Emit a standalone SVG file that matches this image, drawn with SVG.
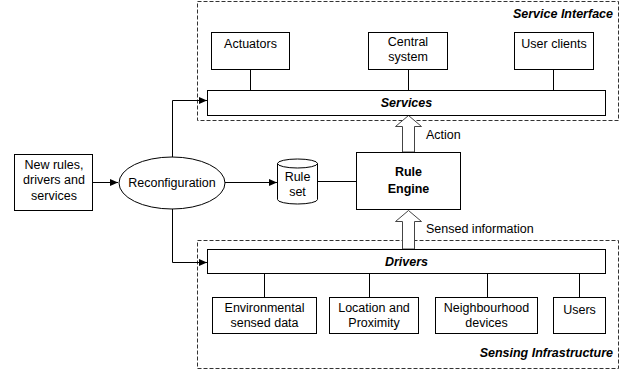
<svg xmlns="http://www.w3.org/2000/svg" width="635" height="374" viewBox="0 0 635 374">
<defs>
<marker id="ah" markerWidth="8" markerHeight="8" refX="8" refY="4" orient="auto" markerUnits="userSpaceOnUse"><path d="M0,0.5 L8,4 L0,7.5 Z" fill="#000"/></marker>
<style>
text{font-family:"Liberation Sans",Arial,sans-serif;font-size:12.5px;fill:#000;text-anchor:middle}
.bi{font-weight:bold;font-style:italic}
.b{font-weight:bold}
.box{fill:#fff;stroke:#000;stroke-width:1}
.dash{fill:none;stroke:#333;stroke-width:1;stroke-dasharray:4,2}
.ln{fill:none;stroke:#000;stroke-width:1}
.hollow{fill:#fff;stroke:#444;stroke-width:1}
</style>
</defs>
<rect width="635" height="374" fill="#fff"/>
<g id="service-interface">
<rect class="dash" x="197.5" y="1.5" width="421" height="119"/>
<text class="bi" x="613" y="18" style="text-anchor:end">Service Interface</text>
</g>
<g id="sensing-infrastructure">
<rect class="dash" x="197.5" y="240.5" width="421" height="128"/>
<text class="bi" x="613" y="357" style="text-anchor:end">Sensing Infrastructure</text>
</g>
<g id="connectors">
<line class="ln" x1="250.5" y1="70" x2="250.5" y2="90"/>
<line class="ln" x1="408.5" y1="70" x2="408.5" y2="90"/>
<line class="ln" x1="553.5" y1="70" x2="553.5" y2="90"/>
<line class="ln" x1="264.5" y1="274" x2="264.5" y2="297"/>
<line class="ln" x1="369.5" y1="274" x2="369.5" y2="297"/>
<line class="ln" x1="487.5" y1="274" x2="487.5" y2="297"/>
<line class="ln" x1="579.5" y1="274" x2="579.5" y2="297"/>
<line class="ln" x1="93" y1="182.5" x2="118" y2="182.5" marker-end="url(#ah)"/>
<line class="ln" x1="225" y1="182.5" x2="277" y2="182.5" marker-end="url(#ah)"/>
<line class="ln" x1="317" y1="181.5" x2="356" y2="181.5"/>
<polyline class="ln" points="172.5,157 172.5,100.5 207,100.5" marker-end="url(#ah)"/>
<polyline class="ln" points="172.5,209 172.5,262.5 207,262.5" marker-end="url(#ah)"/>
<polygon class="hollow" points="402.5,152 402.5,126.5 395.5,126.5 408.5,115.5 421.5,126.5 414.5,126.5 414.5,152"/>
<polygon class="hollow" points="402.5,249 402.5,221.5 395.5,221.5 408.5,210.5 421.5,221.5 414.5,221.5 414.5,249"/>
<text x="426" y="139" style="text-anchor:start">Action</text>
<text x="426" y="233" style="text-anchor:start">Sensed information</text>
</g>
<g id="actuators">
<rect class="box" x="211.5" y="32.5" width="78" height="37"/>
<text x="250.5" y="48">Actuators</text>
</g>
<g id="central-system">
<rect class="box" x="368.5" y="32.5" width="79" height="37"/>
<text x="408" y="46">Central</text>
<text x="408" y="61">system</text>
</g>
<g id="user-clients">
<rect class="box" x="514.5" y="32.5" width="79" height="37"/>
<text x="554" y="48">User clients</text>
</g>
<g id="services">
<rect class="box" x="207.5" y="90.5" width="398" height="25"/>
<text class="bi" x="406.5" y="107">Services</text>
</g>
<g id="new-rules">
<rect class="box" x="14.5" y="154.5" width="78" height="56"/>
<text x="54" y="169">New rules,</text>
<text x="54" y="184">drivers and</text>
<text x="54" y="200">services</text>
</g>
<g id="reconfiguration">
<ellipse class="box" cx="172" cy="183" rx="53" ry="26"/>
<text x="172" y="187">Reconfiguration</text>
</g>
<g id="rule-set">
<path class="box" d="M277.5,163.5 L277.5,199.5 A20,4.5 0 0 0 317.5,199.5 L317.5,163.5 A20,4.5 0 0 0 277.5,163.5 Z"/>
<path class="ln" d="M277.5,163.5 A20,4.5 0 0 0 317.5,163.5"/>
<text x="297.5" y="181">Rule</text>
<text x="297.5" y="196">set</text>
</g>
<g id="rule-engine">
<rect class="box" x="356.5" y="152.5" width="104" height="57"/>
<text class="b" x="408.5" y="176">Rule</text>
<text class="b" x="408.5" y="193">Engine</text>
</g>
<g id="drivers">
<rect class="box" x="207.5" y="249.5" width="398" height="24"/>
<text class="bi" x="406.5" y="266">Drivers</text>
</g>
<g id="environmental">
<rect class="box" x="212.5" y="297.5" width="104" height="36"/>
<text x="264.5" y="312">Environmental</text>
<text x="264.5" y="327">sensed data</text>
</g>
<g id="location">
<rect class="box" x="329.5" y="297.5" width="89" height="36"/>
<text x="374" y="312">Location and</text>
<text x="374" y="327">Proximity</text>
</g>
<g id="neighbourhood">
<rect class="box" x="435.5" y="297.5" width="102" height="36"/>
<text x="486.5" y="312">Neighbourhood</text>
<text x="486.5" y="327">devices</text>
</g>
<g id="users">
<rect class="box" x="553.5" y="297.5" width="52" height="36"/>
<text x="579.5" y="314">Users</text>
</g>
</svg>
